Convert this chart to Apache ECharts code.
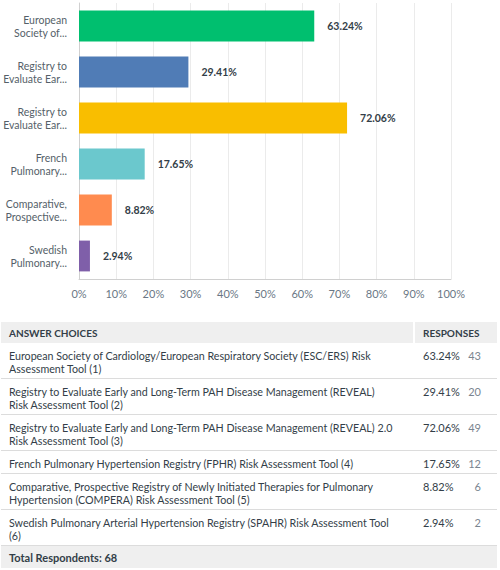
<!DOCTYPE html>
<html>
<head>
<meta charset="utf-8">
<script src="https://cdn.jsdelivr.net/npm/echarts@6/dist/echarts.min.js"></script>
<style>
html,body{margin:0;padding:0;background:#fff;}
#chart{width:500px;height:570px;}
</style>
</head>
<body>
<div id="chart"></div>
<script>
// ---- data ----
var axisLabels = [
  "European\nSociety of...",
  "Registry to\nEvaluate Ear...",
  "Registry to\nEvaluate Ear...",
  "French\nPulmonary...",
  "Comparative,\nProspective...",
  "Swedish\nPulmonary..."
];
var percents = [63.24, 29.41, 72.06, 17.65, 8.82, 2.94];
var counts = [43, 20, 49, 12, 6, 2];
var barColors = ["#00bf6f", "#507cb6", "#f9be00", "#6bc8cd", "#ff8b4f", "#7f5fa9"];
var choiceLines = [
  ["European Society of Cardiology/European Respiratory Society (ESC/ERS) Risk", "Assessment Tool (1)"],
  ["Registry to Evaluate Early and Long-Term PAH Disease Management (REVEAL)", "Risk Assessment Tool (2)"],
  ["Registry to Evaluate Early and Long-Term PAH Disease Management (REVEAL) 2.0", "Risk Assessment Tool (3)"],
  ["French Pulmonary Hypertension Registry (FPHR) Risk Assessment Tool (4)"],
  ["Comparative, Prospective Registry of Newly Initiated Therapies for Pulmonary", "Hypertension (COMPERA) Risk Assessment Tool (5)"],
  ["Swedish Pulmonary Arterial Hypertension Registry (SPAHR) Risk Assessment Tool", "(6)"]
];
var xTicks = [0, 10, 20, 30, 40, 50, 60, 70, 80, 90, 100];
var headerChoices = "ANSWER CHOICES";
var headerResponses = "RESPONSES";
var totalText = "Total Respondents: 68";

// ---- chart ----
var FONT = "Lato, 'Open Sans', sans-serif";
var TEXT = "#333e48";
var chart = echarts.init(document.getElementById('chart'), null, {renderer: 'svg'});

var graphics = [];
var tableLeft = 1, tableRight = 497;
var headerTop = 322, headerH = 21;
graphics.push({type: 'rect', shape: {x: tableLeft, y: headerTop, width: tableRight - tableLeft, height: headerH}, style: {fill: '#efefef'}});
graphics.push({type: 'rect', shape: {x: 413, y: headerTop, width: 2, height: headerH}, style: {fill: '#ffffff'}});
graphics.push({type: 'text', x: 9, y: headerTop + headerH / 2, style: {text: headerChoices, fill: TEXT, font: "bold 10px " + FONT, textVerticalAlign: 'middle'}});
graphics.push({type: 'text', x: 423, y: headerTop + headerH / 2, style: {text: headerResponses, fill: TEXT, font: "bold 10px " + FONT, textVerticalAlign: 'middle'}});

var y = headerTop + headerH;
for (var i = 0; i < choiceLines.length; i++) {
  var n = choiceLines[i].length;
  var h = 10 + 13 * n;
  graphics.push({type: 'text', x: 9, y: y + 6, style: {text: choiceLines[i].join("\n"), fill: TEXT, font: "10.7px " + FONT, lineHeight: 13, textVerticalAlign: 'top'}});
  graphics.push({type: 'text', x: 423, y: y + 6, style: {text: percents[i].toFixed(2) + "%", fill: TEXT, font: "11px " + FONT, lineHeight: 13, textVerticalAlign: 'top'}});
  graphics.push({type: 'text', x: 481, y: y + 6, style: {text: String(counts[i]), fill: '#7a8590', font: "11px " + FONT, lineHeight: 13, textVerticalAlign: 'top', textAlign: 'right'}});
  y += h;
  graphics.push({type: 'rect', shape: {x: tableLeft, y: y - 1, width: tableRight - tableLeft, height: 1}, style: {fill: '#dcdcdc'}});
}
graphics.push({type: 'rect', shape: {x: tableLeft, y: y, width: tableRight - tableLeft, height: 22}, style: {fill: '#efefef'}});
graphics.push({type: 'text', x: 9, y: y + 11, style: {text: totalText, fill: TEXT, font: "bold 11px " + FONT, textVerticalAlign: 'middle'}});

chart.setOption({
  animation: false,
  grid: {left: 79, right: 49, top: 3, height: 276, containLabel: false},
  xAxis: {
    type: 'value', min: 0, max: 100, interval: 10,
    axisLine: {show: true, lineStyle: {color: '#d0d0d0'}},
    axisTick: {show: false},
    axisLabel: {formatter: '{value}%', color: '#6a7785', fontSize: 11, fontFamily: FONT, margin: 9},
    splitLine: {show: true, lineStyle: {color: '#ebebeb'}}
  },
  yAxis: {
    type: 'category', inverse: true, data: axisLabels,
    axisLine: {show: true, lineStyle: {color: '#d0d0d0'}},
    axisTick: {show: false},
    axisLabel: {color: '#555f69', fontSize: 10.5, fontFamily: FONT, lineHeight: 13, margin: 12, align: 'right'}
  },
  series: [{
    type: 'bar',
    barCategoryGap: '33%',
    data: percents.map(function (v, i) { return {value: v, itemStyle: {color: barColors[i]}}; }),
    label: {
      show: true, position: 'right', distance: 13,
      formatter: function (p) { return p.value.toFixed(2) + '%'; },
      color: TEXT, fontWeight: 'bold', fontSize: 10.5, fontFamily: FONT
    }
  }],
  graphic: graphics
});
</script>
</body>
</html>
